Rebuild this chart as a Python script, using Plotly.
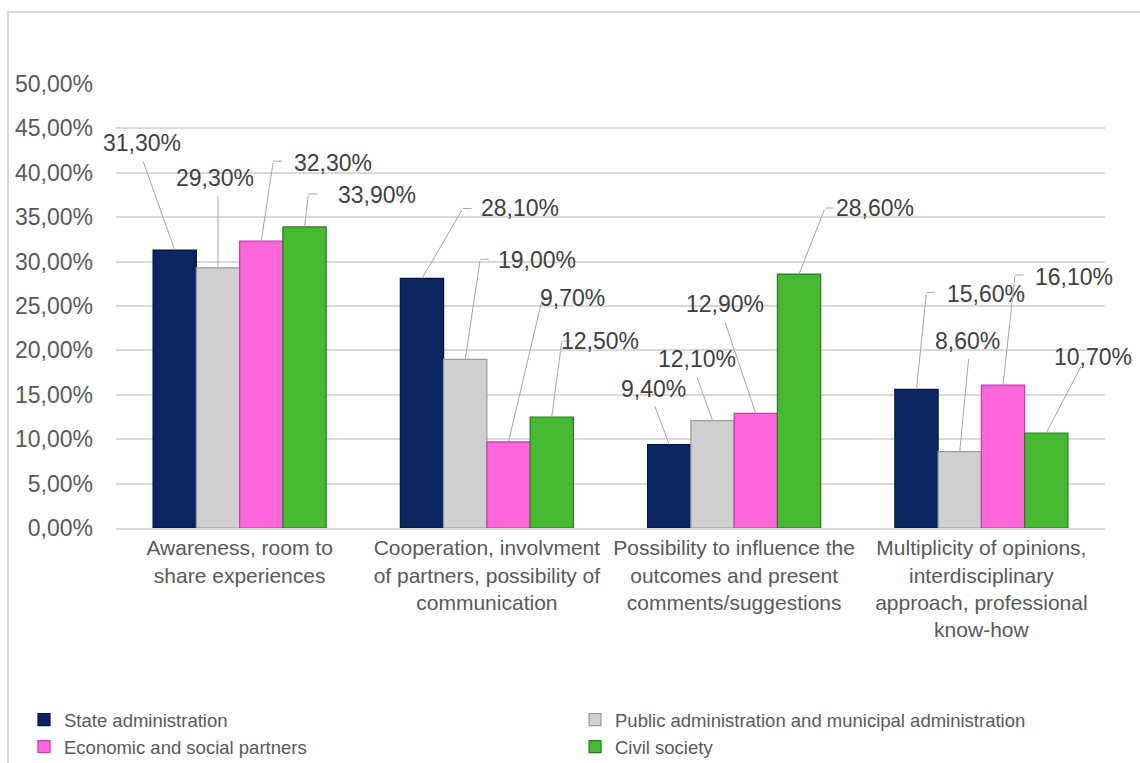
import plotly.graph_objects as go

categories = [
    "Awareness, room to<br>share experiences",
    "Cooperation, involvment<br>of partners, possibility of<br>communication",
    "Possibility to influence the<br>outcomes and present<br>comments/suggestions",
    "Multiplicity of opinions,<br>interdisciplinary<br>approach, professional<br>know-how",
]
series_names = [
    "State administration",
    "Public administration and municipal administration",
    "Economic and social partners",
    "Civil society",
]
state_admin = [31.3, 28.1, 9.4, 15.6]
public_admin = [29.3, 19.0, 12.1, 8.6]
econ_social = [32.3, 9.7, 12.9, 16.1]
civil_society = [33.9, 12.5, 28.6, 10.7]
y_ticks = [0, 5, 10, 15, 20, 25, 30, 35, 40, 45, 50]
y_tick_labels = [f"{t:.2f}%".replace(".", ",") for t in y_ticks]

series_values = [state_admin, public_admin, econ_social, civil_society]
colors = ["#0B2561", "#D0D0D0", "#FF66D9", "#46B832"]
edge_colors = ["#061540", "#9A9A9A", "#C040A8", "#2A7A1E"]

# label placement: (text dx, text dy, leader dx, leader dy, stub) in pixels relative to bar top
label_pos = [
    [(-33, -107, -32, -90, False), (-3, -90, 0, -73, False), (72, -78, 12, -80, True), (72, -32, 4, -33, True)],
    [(98, -70, 41, -70, True), (72, -99, 15, -100, True), (64, -144, 34, -144, True), (48, -76, 10, -76, True)],
    [(-16, -56, -15, -40, False), (-15, -62, -16, -45, False), (-31, -109, -31, -92, False), (76, -66, 26, -66, True)],
    [(70, -95, 10, -97, True), (8, -111, 9, -94, False), (71, -108, 12, -110, True), (47, -76, 36, -69, False)],
]

fig = go.Figure()
for j, (name, vals) in enumerate(zip(series_names, series_values)):
    fig.add_trace(go.Bar(
        x=list(range(len(categories))), y=vals, name=name,
        marker=dict(color=colors[j], line=dict(color=edge_colors[j], width=1.2)),
        hoverinfo="skip",
    ))

n = len(series_names)
group_w = 0.7
bar_w = group_w / n
annotations = []
for i in range(len(categories)):
    for j in range(n):
        v = series_values[j][i]
        bx = i - group_w / 2 + bar_w * (j + 0.5)
        tdx, tdy, ldx, ldy, stub = label_pos[i][j]
        annotations.append(dict(
            x=bx, y=v, xref="x", yref="y", text="", showarrow=True,
            arrowhead=0, arrowwidth=1, arrowcolor="#A6A6A6",
            ax=ldx, ay=ldy, axref="pixel", ayref="pixel", standoff=0, startstandoff=0,
        ))
        if stub:
            annotations.append(dict(
                x=bx, y=v, xref="x", yref="y", text="", showarrow=True,
                arrowhead=0, arrowwidth=1, arrowcolor="#A6A6A6",
                xshift=ldx, yshift=-ldy, ax=10, ay=0, standoff=0,
            ))
        annotations.append(dict(
            x=bx, y=v, xref="x", yref="y",
            text=f"{v:.2f}%".replace(".", ","), showarrow=False,
            xshift=tdx, yshift=-tdy,
            font=dict(family="Liberation Sans, Arial", size=23, color="#404040"),
        ))

W, H = 1140, 763
ml, mr, mt, mb = 116, 35, 84, 235
pw, ph = W - ml - mr, H - mt - mb

def px_x(p):
    return (p - ml) / pw

def px_y(p):
    return (H - mb - p) / ph

fig.add_shape(type="rect", xref="paper", yref="paper",
              x0=px_x(8), x1=px_x(1150), y0=px_y(775), y1=px_y(12),
              line=dict(color="#D9D9D9", width=2), fillcolor="rgba(0,0,0,0)", layer="below")

fig.update_layout(
    width=W, height=H,
    margin=dict(l=ml, r=mr, t=mt, b=mb, autoexpand=False),
    paper_bgcolor="white", plot_bgcolor="white",
    barmode="group", bargap=0.3, bargroupgap=0,
    font=dict(family="Liberation Sans, Arial", color="#595959"),
    xaxis=dict(
        tickmode="array", tickvals=list(range(len(categories))), ticktext=categories,
        range=[-0.5, len(categories) - 0.5],
        tickfont=dict(size=21, color="#595959"),
        showgrid=False, showline=True, linecolor="#D9D9D9", linewidth=2, ticks="",
        automargin=False,
    ),
    yaxis=dict(
        range=[0, 50], tickmode="array", tickvals=y_ticks, ticktext=y_tick_labels,
        tickfont=dict(size=23, color="#595959"),
        showgrid=True, gridcolor="#D9D9D9", gridwidth=2,
        zeroline=False, showline=False, ticks="", ticklabelstandoff=22,
        automargin=False,
    ),
    legend=dict(
        orientation="h", x=px_x(24), xanchor="left", y=px_y(701), yanchor="top",
        font=dict(size=18.5, color="#595959"), entrywidth=506, entrywidthmode="pixels",
        bgcolor="rgba(0,0,0,0)", itemwidth=30, traceorder="normal", tracegroupgap=0,
    ),
    annotations=annotations,
    showlegend=True,
)

fig.write_html("out.html")
